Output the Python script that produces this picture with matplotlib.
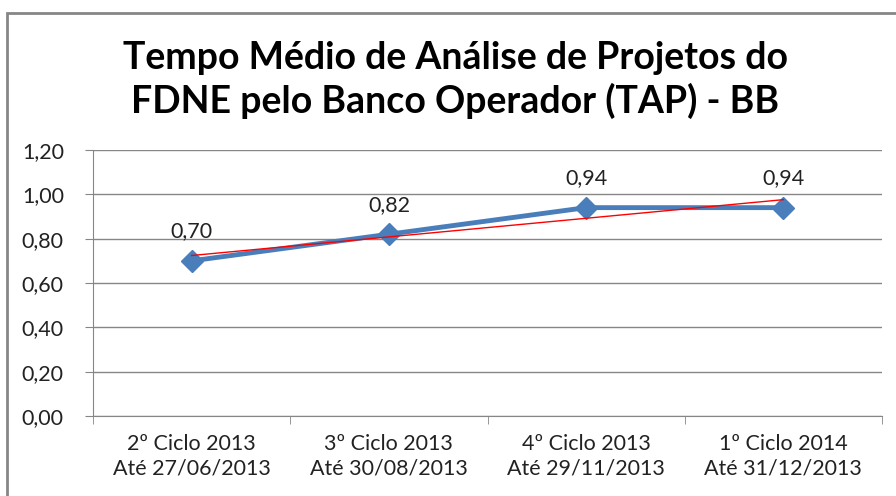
import numpy as np
import matplotlib.pyplot as plt
from matplotlib.patches import Rectangle

# dados
categorias = ['2º Ciclo 2013\nAté 27/06/2013', '3º Ciclo 2013\nAté 30/08/2013',
              '4º Ciclo 2013\nAté 29/11/2013', '1º Ciclo 2014\nAté 31/12/2013']
valores = [0.70, 0.82, 0.94, 0.94]
y_ticks = [0.0, 0.2, 0.4, 0.6, 0.8, 1.0, 1.2]
titulo = 'Tempo Médio de Análise de Projetos do\nFDNE pelo Banco Operador (TAP) - BB'

plt.rcParams['font.family'] = ['Lato', 'DejaVu Sans']

fig = plt.figure(figsize=(8.96, 4.96), dpi=100)
W, H = 896, 496
ax = fig.add_axes([93 / W, 1 - 416 / H, (882 - 93) / W, (416 - 150) / H])

x = np.arange(len(valores))

# linha de tendencia linear
coef = np.polyfit(x, valores, 1)
ax.plot(x, np.polyval(coef, x), color='#FF0000', lw=1, zorder=4)

ax.plot(x, valores, color='#4A7EBB', lw=3.5, marker='D', ms=11,
        markerfacecolor='#4A7EBB', markeredgecolor='#4A7EBB', zorder=3)

for xi, v in zip(x, valores):
    ax.annotate(f'{v:.2f}'.replace('.', ','), (xi, v), xytext=(0, 14),
                textcoords='offset points', ha='center', va='bottom',
                fontsize=15.5, color='#222222')

ax.set_xlim(-0.5, len(valores) - 0.5)
ax.set_ylim(0, 1.2)
ax.set_yticks(y_ticks)
ax.set_yticklabels([f'{t:.2f}'.replace('.', ',') for t in y_ticks], fontsize=15.5)
ax.set_xticks(x)
ax.set_xticklabels(categorias, fontsize=15.5, linespacing=1.3)
ax.set_xticks(np.arange(-0.5, len(valores)), minor=True)
ax.tick_params(axis='x', which='major', length=0, pad=13)
ax.tick_params(axis='x', which='minor', length=6, color='#868686')
ax.tick_params(axis='y', length=6, color='#868686', pad=15)
ax.tick_params(colors='#222222', which='major')
ax.tick_params(axis='both', which='major', color='#868686')

ax.grid(axis='y', color='#868686', lw=1)
ax.set_axisbelow(True)
for s in ['top', 'right']:
    ax.spines[s].set_visible(False)
for s in ['left', 'bottom']:
    ax.spines[s].set_color('#868686')

fig.text(455 / W, 1 - 80 / H, titulo, ha='center', va='center',
         fontsize=27, fontweight='bold', linespacing=1.25)

# borda do grafico
fig.patches.append(Rectangle((7 / W, -0.1), 1.1, 1 - 13 / H + 0.1,
                             transform=fig.transFigure, fill=False,
                             edgecolor='#868686', lw=2))

fig.savefig('out.png', dpi=100)
